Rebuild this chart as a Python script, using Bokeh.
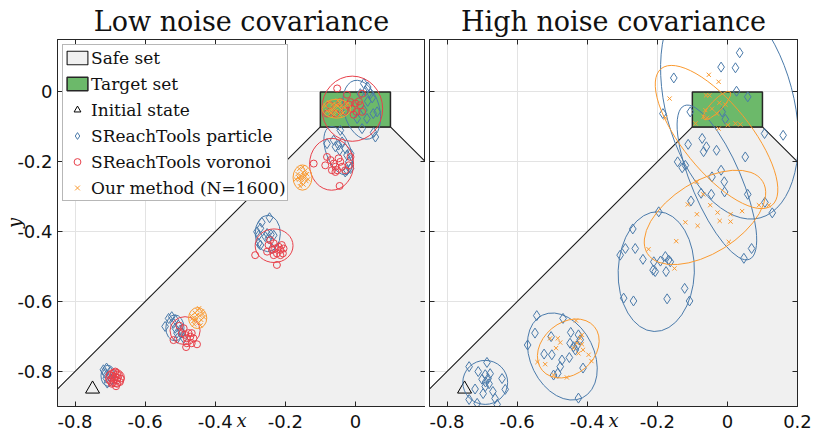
from bokeh.plotting import figure
from bokeh.layouts import row
from bokeh.models import (Range1d, FixedTicker, CustomJSTickFormatter, LinearAxis,
                          Legend, LegendItem, CustomLabelingPolicy)
from bokeh.embed import file_html
from bokeh.resources import INLINE

# ---------------- data ----------------
TITLES = ["Low noise covariance", "High noise covariance"]
X_LABEL = "x"
Y_LABEL = "y"
X_TICKS_LOW = [-0.8, -0.6, -0.4, -0.2, 0.0]
X_TICKS_HIGH = [-0.8, -0.6, -0.4, -0.2, 0.0, 0.2]
Y_TICKS = [-0.8, -0.6, -0.4, -0.2, 0.0]
X_RANGE = [-0.85, 0.2]
Y_RANGE = [-0.9, 0.15]

INITIAL_X = [-0.75]
INITIAL_Y = [-0.85]
SAFE_X = [-0.1, 0.1, 1.2, -1.2]
SAFE_Y = [-0.1, -0.1, -1.2, -1.2]
TARGET_LRBT = [-0.1, 0.1, -0.1, 0.0]

LEGEND_LABELS = ["Safe set", "Target set", "Initial state", "SReachTools particle",
                 "SReachTools voronoi", "Our method (N=1600)"]

# low noise: SReachTools particle
LOW_PARTICLE_X = [-0.719, -0.710, -0.714, -0.711, -0.708, -0.700, -0.695, -0.702,
                  -0.543, -0.533, -0.524, -0.519, -0.514, -0.509, -0.505, -0.500, -0.495, -0.508, -0.490, -0.514,
                  -0.245, -0.267, -0.271, -0.281, -0.276, -0.252, -0.241, -0.233, -0.271, -0.276, -0.238, -0.248, -0.257,
                  -0.081, -0.062, -0.043, -0.048, -0.057, -0.038, -0.045, -0.029, -0.024, -0.014, -0.019, -0.024, -0.029, -0.014,
                  0.024, 0.035, 0.029, 0.014, 0.043, 0.048, 0.035, 0.062, 0.051, 0.033, 0.005, 0.019, 0.057, 0.052, 0.024]
LOW_PARTICLE_Y = [-0.795, -0.790, -0.805, -0.819, -0.833, -0.800, -0.824, -0.814,
                  -0.671, -0.648, -0.643, -0.662, -0.676, -0.690, -0.667, -0.681, -0.690, -0.705, -0.705, -0.652,
                  -0.360, -0.373, -0.390, -0.400, -0.410, -0.405, -0.408, -0.410, -0.438, -0.433, -0.448, -0.419, -0.414,
                  -0.148, -0.138, -0.110, -0.152, -0.157, -0.143, -0.167, -0.162, -0.181, -0.176, -0.200, -0.224, -0.229, -0.219,
                  0.024, 0.014, 0.002, -0.005, -0.005, -0.017, -0.027, -0.057, -0.062, -0.076, -0.076, -0.105, -0.129, -0.116, -0.052]

# low noise: SReachTools voronoi
LOW_VORONOI_X = [-0.700, -0.695, -0.690, -0.685, -0.680, -0.675, -0.690, -0.680, -0.695, -0.670, -0.685, -0.700, -0.678, -0.688, -0.683, -0.672, -0.692, -0.680,
                 -0.519, -0.502, -0.495, -0.486, -0.481, -0.476, -0.471, -0.467, -0.462, -0.481, -0.452, -0.483, -0.467, -0.490,
                 -0.286, -0.252, -0.248, -0.238, -0.233, -0.229, -0.224, -0.219, -0.214, -0.210, -0.205, -0.207, -0.224, -0.214, -0.233, -0.243,
                 -0.119, -0.086, -0.081, -0.071, -0.062, -0.057, -0.052, -0.043, -0.048, -0.038, -0.029, -0.067, -0.019, -0.014, -0.045, -0.057,
                 -0.052, -0.024, 0.019, -0.073, -0.043, -0.014, 0.000, 0.010, 0.014, -0.010, 0.003, -0.081, -0.057, -0.005, 0.019, -0.031, -0.019]
LOW_VORONOI_Y = [-0.810, -0.820, -0.805, -0.815, -0.825, -0.810, -0.830, -0.835, -0.835, -0.820, -0.800, -0.825, -0.818, -0.822, -0.842, -0.830, -0.812, -0.808,
                 -0.710, -0.669, -0.690, -0.695, -0.705, -0.690, -0.700, -0.690, -0.705, -0.719, -0.722, -0.730, -0.719, -0.676,
                 -0.467, -0.457, -0.438, -0.452, -0.433, -0.448, -0.462, -0.443, -0.452, -0.438, -0.448, -0.462, -0.495, -0.467, -0.467, -0.424,
                 -0.205, -0.210, -0.186, -0.195, -0.205, -0.214, -0.224, -0.200, -0.190, -0.214, -0.224, -0.224, -0.210, -0.186, -0.269, -0.229,
                 0.010, -0.008, -0.005, -0.038, -0.029, -0.029, -0.033, -0.027, -0.038, -0.048, -0.057, -0.062, -0.062, -0.065, -0.057, -0.055, -0.036]

# low noise: our method
LOW_OURS_X = [-0.468, -0.462, -0.458, -0.455, -0.450, -0.447, -0.444, -0.440, -0.436, -0.432, -0.452, -0.460, -0.442, -0.455, -0.438, -0.465, -0.446,
              -0.165, -0.160, -0.155, -0.150, -0.145, -0.140, -0.155, -0.160, -0.148, -0.138, -0.170, -0.152, -0.143, -0.158, -0.135, -0.150, -0.162, -0.146,
              -0.085, -0.075, -0.070, -0.065, -0.060, -0.055, -0.050, -0.045, -0.040, -0.035, -0.030, -0.025, -0.060, -0.045, -0.050, -0.070, -0.080, -0.040, -0.055, -0.065]
LOW_OURS_Y = [-0.640, -0.655, -0.632, -0.648, -0.625, -0.660, -0.640, -0.652, -0.635, -0.645, -0.638, -0.665, -0.668, -0.653, -0.628, -0.648, -0.619,
              -0.235, -0.250, -0.240, -0.230, -0.245, -0.255, -0.260, -0.220, -0.265, -0.235, -0.250, -0.250, -0.225, -0.270, -0.250, -0.215, -0.245, -0.238,
              -0.040, -0.030, -0.050, -0.035, -0.045, -0.055, -0.040, -0.030, -0.050, -0.060, -0.045, -0.035, -0.065, -0.065, -0.025, -0.060, -0.055, -0.040, -0.038, -0.050]

# high noise: SReachTools particle
HIGH_PARTICLE_X = [-0.737, -0.686, -0.711, -0.691, -0.683, -0.677, -0.643, -0.691, -0.634, -0.697, -0.669, -0.737, -0.714, -0.657, -0.663, -0.690, -0.700, -0.680, -0.720,
                   -0.544, -0.469, -0.549, -0.570, -0.503, -0.447, -0.425, -0.523, -0.501, -0.449, -0.439, -0.429, -0.451, -0.472, -0.477, -0.496, -0.484, -0.412, -0.425, -0.420, -0.434,
                   -0.196, -0.270, -0.291, -0.263, -0.306, -0.241, -0.210, -0.177, -0.191, -0.168, -0.163, -0.212, -0.206, -0.175, -0.122, -0.296, -0.268, -0.172, -0.108,
                   0.035, -0.018, 0.023, -0.153, 0.026, 0.058, -0.184, -0.106, -0.015, -0.006, 0.106, 0.159, -0.072, -0.112, -0.060, -0.068, -0.031, 0.051, -0.142, -0.120, -0.129, -0.018, -0.044, -0.009, -0.008, -0.075, -0.046, 0.058, -0.104, 0.107, 0.128, 0.069, 0.047]
HIGH_PARTICLE_Y = [-0.786, -0.774, -0.800, -0.809, -0.820, -0.806, -0.820, -0.843, -0.851, -0.863, -0.857, -0.880, -0.891, -0.894, -0.877, -0.830, -0.822, -0.835, -0.850,
                   -0.640, -0.648, -0.690, -0.724, -0.700, -0.688, -0.695, -0.750, -0.752, -0.719, -0.729, -0.726, -0.760, -0.767, -0.786, -0.810, -0.805, -0.790, -0.876, -0.709, -0.738,
                   -0.343, -0.392, -0.448, -0.448, -0.467, -0.479, -0.486, -0.471, -0.484, -0.481, -0.486, -0.510, -0.514, -0.514, -0.562, -0.590, -0.598, -0.592, -0.598,
                   0.112, 0.071, 0.069, 0.040, 0.002, -0.014, -0.062, -0.057, -0.057, -0.078, -0.119, -0.124, -0.133, -0.150, -0.157, -0.171, -0.167, -0.186, -0.200, -0.210, -0.217, -0.224, -0.243, -0.257, -0.286, -0.290, -0.293, -0.293, -0.312, -0.316, -0.346, -0.448, -0.476]

# high noise: our method
HIGH_OURS_X = [-0.506, -0.484, -0.477, -0.489, -0.432, -0.415, -0.420, -0.415, -0.429, -0.439, -0.412, -0.425, -0.396, -0.388, -0.542, -0.520, -0.496, -0.458,
               -0.087, -0.069, -0.049, -0.113, -0.087, -0.028, 0.009, 0.042, -0.120, -0.085, -0.022, 0.009, -0.146, -0.225, 0.004, -0.151,
               -0.053, -0.025, -0.165, -0.061, -0.051, -0.023, -0.006, -0.044, -0.063, -0.030, -0.068, -0.058, -0.091, -0.025, 0.001, 0.023, 0.037, -0.177, 0.090, 0.118]
HIGH_OURS_Y = [-0.705, -0.705, -0.717, -0.733, -0.654, -0.695, -0.705, -0.722, -0.719, -0.733, -0.738, -0.748, -0.752, -0.770, -0.773, -0.779, -0.810, -0.817,
               -0.257, -0.293, -0.324, -0.322, -0.350, -0.345, -0.350, -0.341, -0.373, -0.383, -0.369, -0.371, -0.427, -0.450, -0.429, -0.505,
               0.049, 0.029, -0.019, -0.010, -0.010, -0.031, -0.036, -0.048, -0.052, -0.062, -0.071, -0.074, -0.090, -0.105, -0.095, -0.090, -0.093, -0.074, -0.324, -0.324]

# covariance ellipses: centre x, centre y, semi-axis along angle, other semi-axis, angle (deg)
LOW_PARTICLE_ELL_CX = [-0.706, -0.515, -0.250, -0.049, 0.018]
LOW_PARTICLE_ELL_CY = [-0.812, -0.675, -0.405, -0.168, -0.051]
LOW_PARTICLE_ELL_A = [0.030, 0.037, 0.052, 0.072, 0.086]
LOW_PARTICLE_ELL_B = [0.020, 0.026, 0.036, 0.035, 0.051]
LOW_PARTICLE_ELL_ANG = [90, 90, 90, -70, -75]

LOW_VORONOI_ELL_CX = [-0.686, -0.486, -0.232, -0.068, -0.009]
LOW_VORONOI_ELL_CY = [-0.818, -0.683, -0.440, -0.207, -0.048]
LOW_VORONOI_ELL_A = [0.027, 0.043, 0.054, 0.074, 0.093]
LOW_VORONOI_ELL_B = [0.025, 0.040, 0.048, 0.063, 0.087]
LOW_VORONOI_ELL_ANG = [0, 0, 0, 90, 90]

LOW_OURS_ELL_CX = [-0.450, -0.151, -0.054]
LOW_OURS_ELL_CY = [-0.647, -0.245, -0.048]
LOW_OURS_ELL_A = [0.030, 0.036, 0.041]
LOW_OURS_ELL_B = [0.026, 0.027, 0.027]
LOW_OURS_ELL_ANG = [90, 90, 0]

HIGH_PARTICLE_ELL_CX = [-0.691, -0.471, -0.203, -0.030, 0.006]
HIGH_PARTICLE_ELL_CY = [-0.831, -0.757, -0.514, -0.259, -0.034]
HIGH_PARTICLE_ELL_A = [0.064, 0.131, 0.171, 0.238, 0.337]
HIGH_PARTICLE_ELL_B = [0.063, 0.091, 0.109, 0.071, 0.183]
HIGH_PARTICLE_ELL_ANG = [0, -64, 88, -67, -75]

HIGH_OURS_ELL_CX = [-0.454, -0.064, -0.031, -0.030]
HIGH_OURS_ELL_CY = [-0.734, -0.359, -0.129, -0.039]
HIGH_OURS_ELL_A = [0.097, 0.194, 0.251, 0.054]
HIGH_OURS_ELL_B = [0.074, 0.103, 0.097, 0.016]
HIGH_OURS_ELL_ANG = [40, 32, -51, 46]

# ---------------- style ----------------
BLUE = "#4a7aaa"
RED = "#e8404a"
ORANGE = "#fa9a30"
GREEN = "#6cb96a"
SAFE_GRAY = "#f0f0f0"
DARK = "#262626"
SERIF = "DejaVu Serif"
SANS = "DejaVu Sans"

FORMATTER_CODE = "return Math.abs(tick) < 1e-9 ? '0' : tick.toFixed(1);"
HIDE_CODE = "const all = Array.from(indices); for (const i of all) { indices.unset(i); } return indices;"


def style_axis(ax, ticks, show_labels):
    ax.ticker = FixedTicker(ticks=ticks)
    ax.formatter = CustomJSTickFormatter(code=FORMATTER_CODE)
    ax.major_tick_in = 5
    ax.major_tick_out = 0
    ax.minor_tick_in = 0
    ax.minor_tick_out = 0
    ax.axis_line_color = DARK
    ax.major_tick_line_color = DARK
    if show_labels:
        ax.major_label_text_font = SANS
        ax.major_label_text_font_size = "18px"
        ax.major_label_text_color = "#111111"
    else:
        ax.major_label_text_font_size = "0px"
        ax.major_label_standoff = 0
        ax.major_label_policy = CustomLabelingPolicy(code=HIDE_CODE)


def make_panel(title, xticks, show_y, border_left, border_right):
    p = figure(frame_width=368, frame_height=367,
               x_range=Range1d(*X_RANGE), y_range=Range1d(*Y_RANGE),
               output_backend="svg", toolbar_location=None,
               min_border_left=border_left, min_border_right=border_right,
               min_border_top=38, min_border_bottom=0,
               background_fill_color="white", border_fill_color="white",
               outline_line_color=DARK, outline_line_width=1)
    xa = p.xaxis[0]
    style_axis(xa, xticks, True)
    xa.major_label_standoff = 8
    xa.axis_label = X_LABEL
    xa.axis_label_text_font = SERIF
    xa.axis_label_text_font_style = "italic"
    xa.axis_label_text_font_size = "18px"
    xa.axis_label_text_color = "#111111"
    xa.axis_label_standoff = -21

    ya = p.yaxis[0]
    style_axis(ya, Y_TICKS, show_y)
    if show_y:
        ya.major_label_standoff = 5
        ya.axis_label = Y_LABEL
        ya.axis_label_text_font = SERIF
        ya.axis_label_text_font_style = "italic"
        ya.axis_label_text_font_size = "18px"
        ya.axis_label_text_color = "#111111"
        ya.axis_label_standoff = -11

    top = LinearAxis()
    style_axis(top, xticks, False)
    right = LinearAxis()
    style_axis(right, Y_TICKS, False)
    p.add_layout(top, "above")
    p.add_layout(right, "right")
    p.xgrid.ticker = FixedTicker(ticks=xticks)
    p.ygrid.ticker = FixedTicker(ticks=Y_TICKS)
    p.grid.grid_line_color = "#e3e3e3"
    p.grid.grid_line_width = 1

    p.title.text = title
    p.title.align = "center"
    p.title.text_font = SERIF
    p.title.text_font_style = "normal"
    p.title.text_font_size = "27px"
    p.title.text_color = "#111111"
    p.title.standoff = 6
    return p


def draw(p, part_x, part_y, ell_p, ours_x, ours_y, ell_o, vor=None, ell_v=None):
    rs = {}
    rs["safe"] = p.patch(SAFE_X, SAFE_Y, fill_color=SAFE_GRAY, line_color="#1a1a1a", line_width=1.1)
    l, r, b, t = TARGET_LRBT
    rs["target"] = p.quad(left=[l], right=[r], bottom=[b], top=[t], fill_color=GREEN,
                          line_color=DARK, line_width=1.5)
    rs["init"] = p.scatter(INITIAL_X, INITIAL_Y, marker="triangle", size=14,
                           fill_color=None, line_color="black", line_width=1)
    cx, cy, a, bb, ang = ell_p
    p.ellipse(x=cx, y=cy, width=[2 * v for v in a], height=[2 * v for v in bb], angle=ang,
              angle_units="deg", fill_color=None, line_color=BLUE, line_width=1)
    rs["part"] = p.scatter(part_x, part_y, marker="diamond", size=10, fill_color=None,
                           line_color=BLUE, line_width=1)
    if vor is not None:
        cx, cy, a, bb, ang = ell_v
        p.ellipse(x=cx, y=cy, width=[2 * v for v in a], height=[2 * v for v in bb], angle=ang,
                  angle_units="deg", fill_color=None, line_color=RED, line_width=1)
        rs["vor"] = p.scatter(vor[0], vor[1], marker="circle", size=7, fill_color=None,
                              line_color=RED, line_width=1)
    cx, cy, a, bb, ang = ell_o
    p.ellipse(x=cx, y=cy, width=[2 * v for v in a], height=[2 * v for v in bb], angle=ang,
              angle_units="deg", fill_color=None, line_color=ORANGE, line_width=1)
    rs["ours"] = p.scatter(ours_x, ours_y, marker="x", size=6, line_color=ORANGE, line_width=1)
    return rs


p1 = make_panel(TITLES[0], X_TICKS_LOW, True, 57, 0)
rs1 = draw(p1, LOW_PARTICLE_X, LOW_PARTICLE_Y,
           (LOW_PARTICLE_ELL_CX, LOW_PARTICLE_ELL_CY, LOW_PARTICLE_ELL_A, LOW_PARTICLE_ELL_B, LOW_PARTICLE_ELL_ANG),
           LOW_OURS_X, LOW_OURS_Y,
           (LOW_OURS_ELL_CX, LOW_OURS_ELL_CY, LOW_OURS_ELL_A, LOW_OURS_ELL_B, LOW_OURS_ELL_ANG),
           vor=(LOW_VORONOI_X, LOW_VORONOI_Y),
           ell_v=(LOW_VORONOI_ELL_CX, LOW_VORONOI_ELL_CY, LOW_VORONOI_ELL_A, LOW_VORONOI_ELL_B, LOW_VORONOI_ELL_ANG))

legend = Legend(items=[
    LegendItem(label=LEGEND_LABELS[0], renderers=[rs1["safe"]]),
    LegendItem(label=LEGEND_LABELS[1], renderers=[rs1["target"]]),
    LegendItem(label=LEGEND_LABELS[2], renderers=[rs1["init"]]),
    LegendItem(label=LEGEND_LABELS[3], renderers=[rs1["part"]]),
    LegendItem(label=LEGEND_LABELS[4], renderers=[rs1["vor"]]),
    LegendItem(label=LEGEND_LABELS[5], renderers=[rs1["ours"]]),
], location="top_left", margin=5, padding=1, spacing=3, label_height=23,
    glyph_width=26, glyph_height=17, label_standoff=1,
    label_text_font=SERIF, label_text_font_size="17px", label_text_color="#111111",
    border_line_color="#707070", border_line_width=1,
    background_fill_color="white", background_fill_alpha=1)
p1.add_layout(legend)

p2 = make_panel(TITLES[1], X_TICKS_HIGH, False, 4, 16)
draw(p2, HIGH_PARTICLE_X, HIGH_PARTICLE_Y,
     (HIGH_PARTICLE_ELL_CX, HIGH_PARTICLE_ELL_CY, HIGH_PARTICLE_ELL_A, HIGH_PARTICLE_ELL_B, HIGH_PARTICLE_ELL_ANG),
     HIGH_OURS_X, HIGH_OURS_Y,
     (HIGH_OURS_ELL_CX, HIGH_OURS_ELL_CY, HIGH_OURS_ELL_A, HIGH_OURS_ELL_B, HIGH_OURS_ELL_ANG))

layout = row(p1, p2)
open("out.html", "w").write(file_html(layout, INLINE))
